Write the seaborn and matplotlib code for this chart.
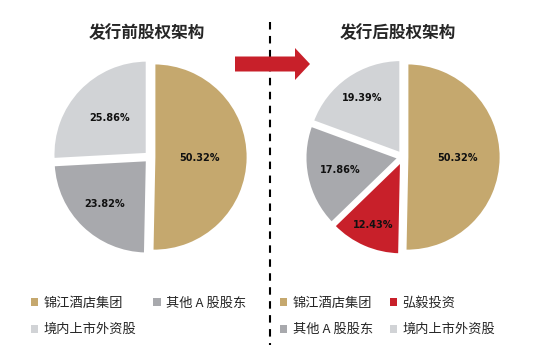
import matplotlib
matplotlib.use("Agg")
import matplotlib.pyplot as plt
import numpy as np
import seaborn as sns
from matplotlib.lines import Line2D
from matplotlib.patches import FancyArrow, Patch

# 数据
titles = ["发行前股权架构", "发行后股权架构"]
before_labels = ["锦江酒店集团", "其他 A 股股东", "境内上市外资股"]
before_values = [50.32, 23.82, 25.86]
after_labels = ["锦江酒店集团", "弘毅投资", "其他 A 股股东", "境内上市外资股"]
after_values = [50.32, 12.43, 17.86, 19.39]

palette = {
    "锦江酒店集团": "#C5A86E",
    "弘毅投资": "#C8202A",
    "其他 A 股股东": "#A8A9AD",
    "境内上市外资股": "#D1D3D6",
}

sns.set_theme(style="white")
plt.rcParams["font.family"] = ["Noto Sans CJK SC", "DejaVu Sans"]

W, H = 539, 357
fig = plt.figure(figsize=(W / 100, H / 100), dpi=100)

# 背景坐标轴（像素坐标）
bg = fig.add_axes([0, 0, 1, 1])
bg.set_xlim(0, W)
bg.set_ylim(H, 0)
bg.axis("off")

# 虚线分隔
bg.add_line(Line2D([270, 270], [22, 345], color="black", lw=1.5, dashes=(3.6, 3.1)))
# 红色箭头
bg.add_patch(FancyArrow(235, 64, 75, 0, width=15, head_width=32, head_length=15,
                        length_includes_head=True, color="#C8202A", lw=0, zorder=5))


def pie_axes(cx, cy, r):
    ax = fig.add_axes([(cx - r) / W, 1 - (cy + r) / H, 2 * r / W, 2 * r / H])
    ax.set_xlim(-1, 1)
    ax.set_ylim(-1, 1)
    ax.axis("off")
    return ax


def draw_pie(ax, labels, values, dists):
    colors = [palette[l] for l in labels]
    wedges, _, autotexts = ax.pie(
        values, colors=colors, startangle=90, counterclock=False, radius=0.94,
        explode=[0.04] * len(values), autopct=lambda p: f"{p:.2f}%",
        wedgeprops={"edgecolor": "white", "linewidth": 2},
        textprops={"fontsize": 7, "fontweight": "bold", "color": "#111111",
                   "family": ["DejaVu Sans"]},
    )
    for w, t, d in zip(wedges, autotexts, dists):
        ang = np.deg2rad((w.theta1 + w.theta2) / 2)
        t.set_position((d * np.cos(ang), d * np.sin(ang)))
    ax.set_xlim(-1, 1)
    ax.set_ylim(-1, 1)
    return wedges


ax1 = pie_axes(150, 157, 100)
draw_pie(ax1, before_labels, before_values, [0.5, 0.66, 0.56])
ax2 = pie_axes(403, 157, 100)
draw_pie(ax2, after_labels, after_values, [0.55, 0.74, 0.64, 0.72])

fig.text(147 / W, 1 - 33 / H, titles[0], ha="center", va="center",
         fontsize=12, fontweight="bold")
fig.text(398 / W, 1 - 33 / H, titles[1], ha="center", va="center",
         fontsize=12, fontweight="bold")

leg_kw = dict(loc="upper left", ncol=2, frameon=False, fontsize=9.5,
              handlelength=0.55, handleheight=0.55, handletextpad=0.4,
              labelspacing=1.0, columnspacing=1.3, borderpad=0, borderaxespad=0,
              bbox_transform=fig.transFigure)


def handles(names):
    return [Patch(facecolor=palette[n], edgecolor="none") for n in names]


# 按行排列图例
order1 = [before_labels[0], before_labels[2], before_labels[1]]
fig.legend(handles(order1), order1, bbox_to_anchor=(31 / W, 1 - 297 / H), **leg_kw)
order2 = [after_labels[0], after_labels[2], after_labels[1], after_labels[3]]
fig.legend(handles(order2), order2, bbox_to_anchor=(280 / W, 1 - 297 / H), **leg_kw)

fig.savefig("out.png", dpi=100)
